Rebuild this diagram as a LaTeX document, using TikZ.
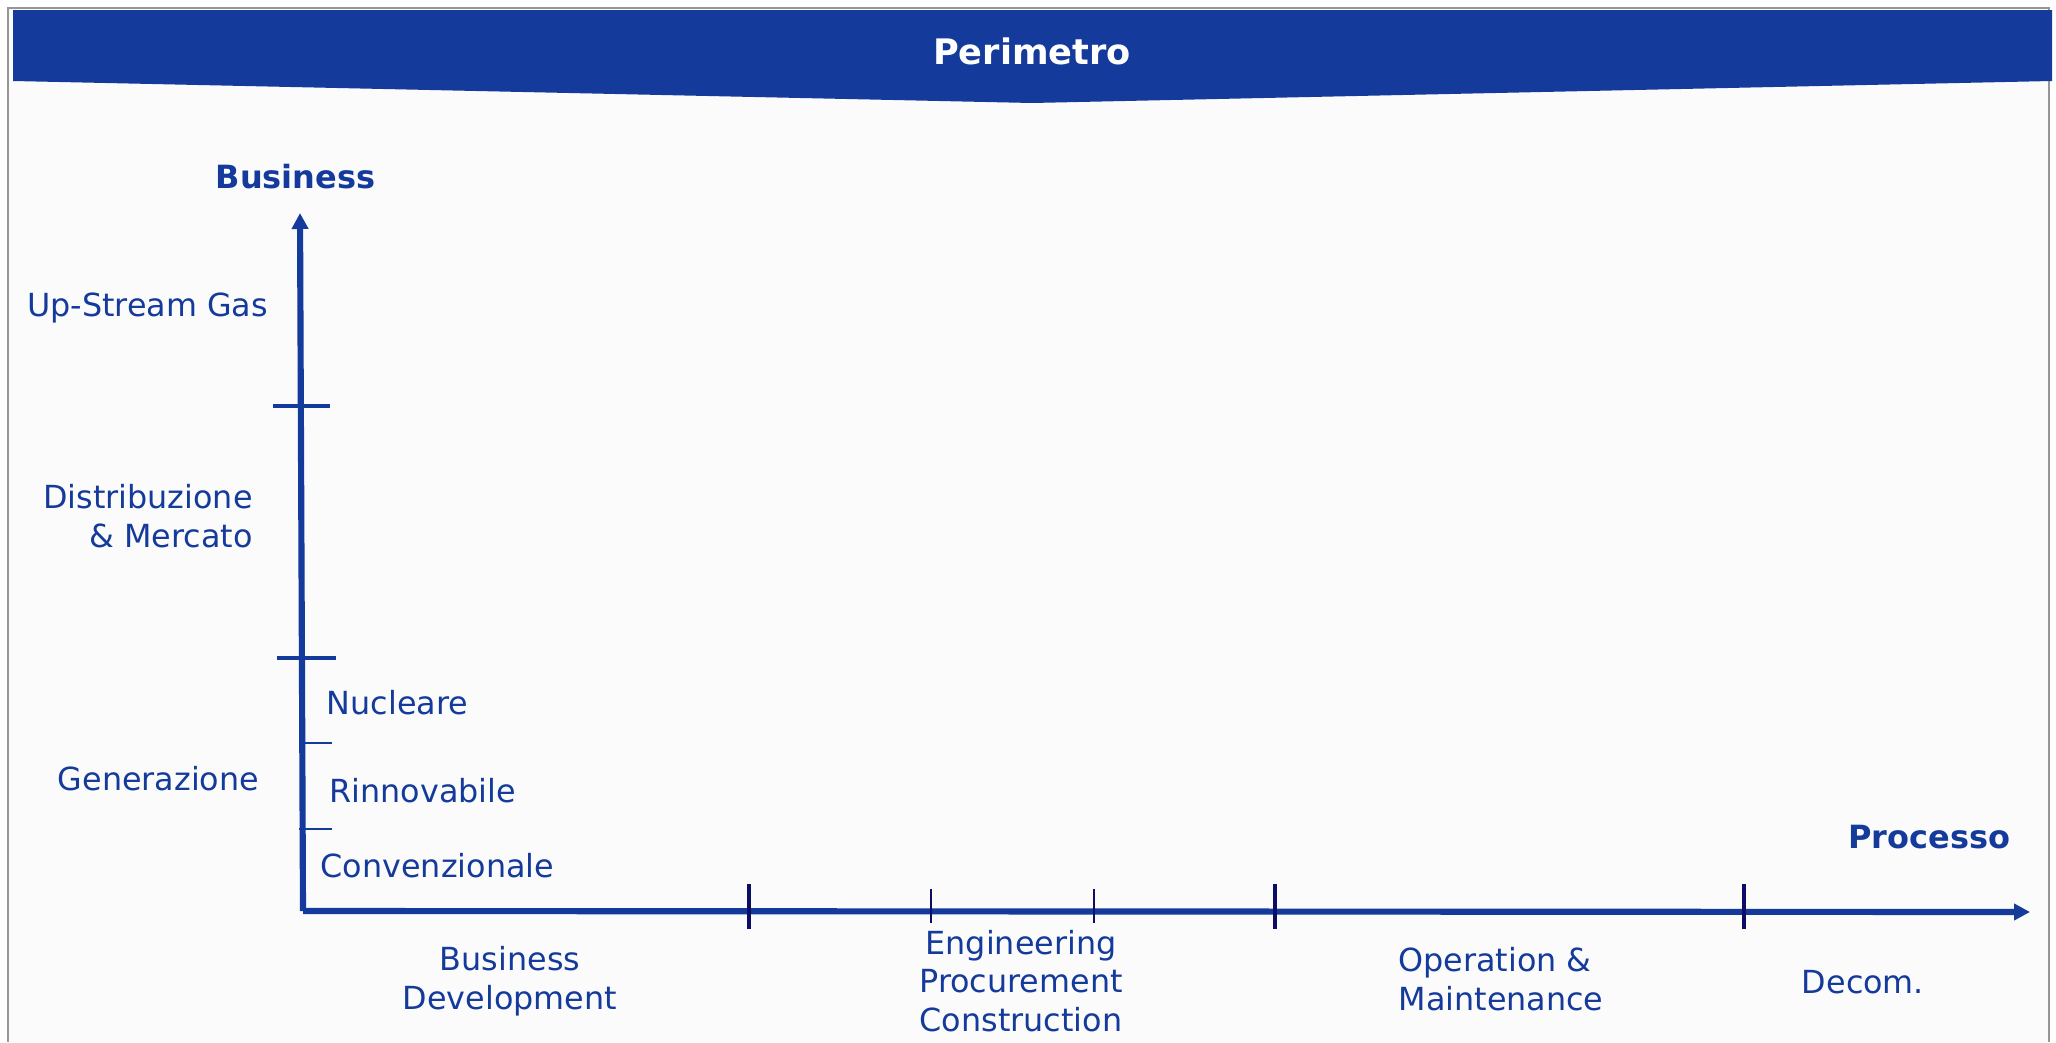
\documentclass[tikz,border=0pt]{standalone}
\usepackage{fontspec}
\setmainfont{DejaVu Sans}
\usetikzlibrary{positioning,arrows.meta}
\definecolor{perimblue}{RGB}{20,58,155}
\definecolor{tickblue}{RGB}{12,14,100}
\definecolor{framegray}{RGB}{150,150,150}
\definecolor{paper}{RGB}{251,251,251}

\begin{document}
\begin{tikzpicture}[
    lbl/.style={text=perimblue, inner sep=0pt, align=center, font=\fontsize{9.05}{11}\selectfont},
    axislbl/.style={text=perimblue, inner sep=0pt, font=\fontsize{9.1}{11}\selectfont\bfseries},
    axisline/.style={draw=perimblue, line width=1.75pt, -{Triangle[length=0.16cm,width=0.16cm]}},
    majtick/.style={draw=perimblue, line width=1.1pt},
    mintick/.style={draw=perimblue, line width=0.4pt},
    proctick/.style={draw=tickblue, line width=0.9pt},
    procmin/.style={draw=tickblue, line width=0.5pt}
]
    \useasboundingbox (0,0) rectangle (20.56,-10.42);
    \fill[white] (0,0) rectangle (20.56,-10.42);
    \fill[paper] (0.08,-0.08) rectangle (20.49,-10.42);
    \draw[framegray, line width=0.6pt] (0.08,-10.42) -- (0.08,-0.08) -- (20.49,-0.08) -- (20.49,-10.42);

    % banner
    \fill[perimblue] (0.13,-0.10) -- (20.52,-0.10) -- (20.52,-0.81) -- (10.32,-1.03) -- (0.13,-0.81) -- cycle;
    \node[text=white, inner sep=0pt, font=\fontsize{10}{12}\selectfont\bfseries] (perimetro) at (10.32,-0.51) {Perimetro};

    % axes
    \coordinate (origin) at (3.03,-9.11);
    \coordinate (ytop) at (3.00,-2.13);
    \coordinate (xend) at (20.30,-9.12);
    \draw[axisline] (origin) -- (ytop);
    \draw[axisline] (origin) -- (xend);

    \node[axislbl] (business) at (2.955,-1.77) {Business};
    \node[axislbl, anchor=east] (processo) at (20.11,-8.37) {Processo};

    % business ticks
    \draw[majtick] (2.73,-4.06) -- (3.30,-4.06);
    \draw[majtick] (2.77,-6.58) -- (3.36,-6.58);
    \foreach \y in {7.43,8.29}
        \draw[mintick] (2.99,-\y) -- (3.32,-\y);

    % process ticks
    \foreach \x in {7.49,12.75,17.44}
        \draw[proctick] (\x,-8.84) -- (\x,-9.29);
    \foreach \x in {9.31,10.94}
        \draw[procmin] (\x,-8.89) -- (\x,-9.23);

    % business labels
    \node[lbl] (upstream) at (1.475,-3.08) {Up-Stream Gas};
    \node[lbl, align=right] (distrib) at (1.48,-5.16) {Distribuzione\\ \& Mercato};
    \node[lbl] (generaz) at (1.585,-7.79) {Generazione};
    \node[lbl, anchor=west] (nucleare) at (3.26,-7.03) {Nucleare};
    \node[lbl, anchor=west] (rinnov) at (3.29,-7.91) {Rinnovabile};
    \node[lbl, anchor=west] (convenz) at (3.20,-8.66) {Convenzionale};

    % process labels
    \node[lbl] (busdev) at (5.10,-9.81) {Business\\Development};
    \node[lbl] (epc) at (10.21,-9.81) {Engineering\\Procurement\\Construction};
    \node[lbl, align=left] (oandm) at (15.01,-9.79) {Operation \&\\Maintenance};
    \node[lbl] (decom) at (18.63,-9.82) {Decom.};
\end{tikzpicture}
\end{document}
